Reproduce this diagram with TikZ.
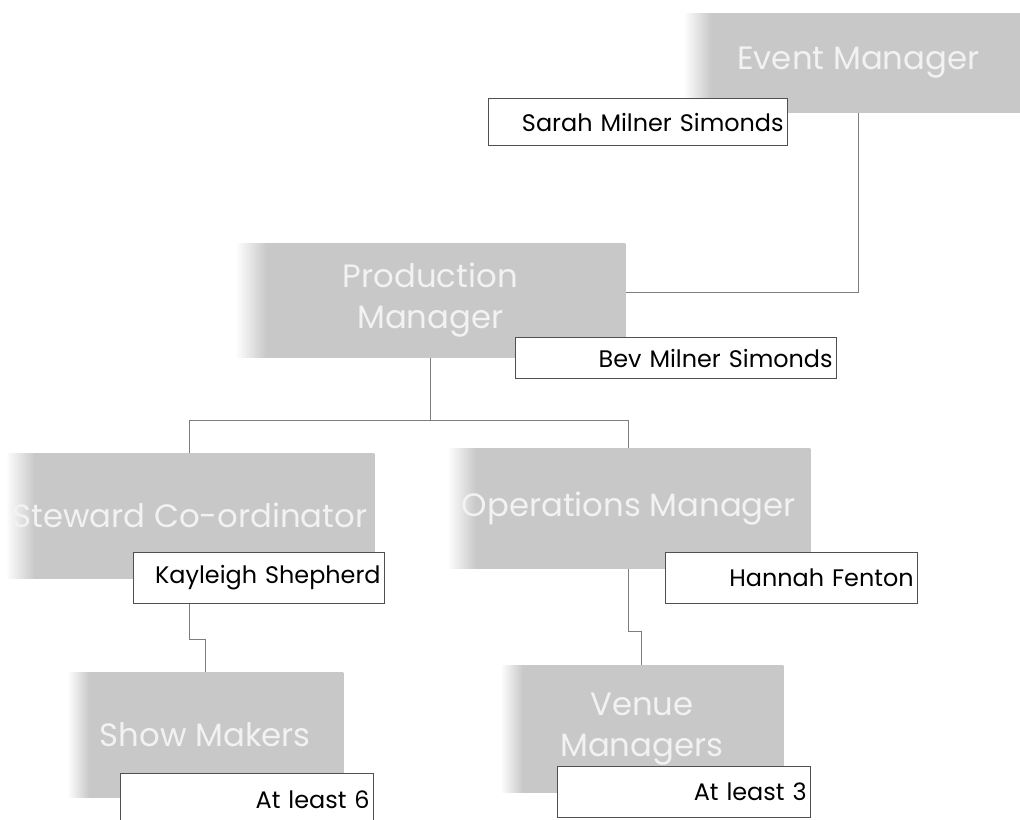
\documentclass[tikz,border=0pt]{standalone}
\usepackage{fontspec}
\setmainfont{Poppins}
\definecolor{boxgray}{RGB}{200,200,200}
\definecolor{labelwhite}{RGB}{242,242,242}
\definecolor{linegray}{RGB}{125,125,125}
\definecolor{framegray}{RGB}{80,80,80}
\pgfdeclarehorizontalshading{boxfade}{100bp}{color(0bp)=(white); color(25bp)=(white); color(29bp)=(boxgray); color(100bp)=(boxgray)}

\begin{document}
\begin{tikzpicture}[x=0.025cm, y=-0.025cm]
	\tikzstyle{role} = [rectangle, shading=boxfade, anchor=north west, inner sep=0pt, align=center, text=labelwhite, font=\fontsize{23}{29}\selectfont]
	\tikzstyle{holder} = [rectangle, draw=framegray, line width=0.8pt, fill=white, anchor=north west, inner xsep=0.1cm, inner ysep=0pt, align=right, font=\fontsize{17}{20}\selectfont]
	\tikzstyle{link} = [draw=linegray, line width=0.6pt]

	\useasboundingbox (0,0) rectangle (1020,820);

	% roles
	\node (em) [role, minimum width=8.75cm, minimum height=2.475cm] at (683,13) {Event Manager};
	\node (pm) [role, minimum width=9.75cm, minimum height=2.85cm] at (235,243) {Production\\Manager};
	\node (sc) [role, minimum width=9.225cm, minimum height=3.125cm] at (5,453) {Steward Co-ordinator};
	\node (om) [role, minimum width=9.075cm, minimum height=3cm] at (447,448) {Operations Manager};
	\node (sm) [role, minimum width=6.9cm, minimum height=3.125cm] at (67,672) {Show Makers};
	\node (vm) [role, minimum width=7.075cm, minimum height=3.175cm] at (500,665) {Venue\\Managers};

	% names
	\node (sarah) [holder, text width=7.275cm, minimum height=1.175cm] at (488,98) {Sarah Milner Simonds};
	\node (bev) [holder, text width=7.825cm, minimum height=1.025cm] at (515,337) {Bev Milner Simonds};
	\node (kay) [holder, text width=6.075cm, minimum height=1.275cm] at (133,552) {Kayleigh Shepherd};
	\node (hannah) [holder, text width=6.1cm, minimum height=1.275cm] at (665,552) {Hannah Fenton};
	\node (six) [holder, text width=6.125cm, minimum height=1.3cm] at (120,773) {At least 6};
	\node (three) [holder, text width=6.125cm, minimum height=1.275cm] at (557,766) {At least 3};

	% lines
	\draw [link] (em.south) |- ([yshift=0.2cm]pm.east);
	\draw [link] (pm.south) |- (sc.north |- 0,420) -- (sc.north);
	\draw [link] (pm.south) |- (om.north |- 0,420) -- (om.north);
	\draw [link] (sc.south |- kay.south) -- ++(0,35) -| (sm.north);
	\draw [link] (om.south) -- ++(0,63) -| (vm.north);
\end{tikzpicture}
\end{document}
